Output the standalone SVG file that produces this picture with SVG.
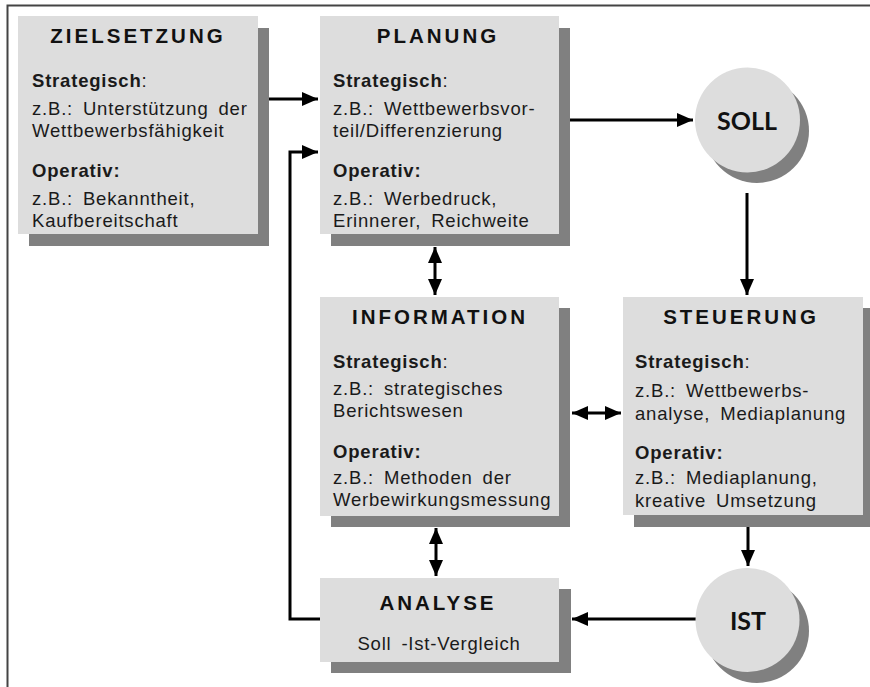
<svg xmlns="http://www.w3.org/2000/svg" width="870" height="687" viewBox="0 0 870 687">
<style>
.frame{stroke:#444;stroke-width:2;fill:none}
.box{fill:#dddddd}
.shadow{fill:#808080}
.title{font-family:"Liberation Sans",Arial,sans-serif;font-weight:bold;font-size:20.5px;letter-spacing:3px;fill:#111;text-anchor:middle}
.body{font-family:"Liberation Sans",Arial,sans-serif;font-size:18.5px;fill:#1a1a1a;letter-spacing:0.8px;word-spacing:4px}
.b{font-weight:bold}
.circ{font-family:"Lato","Open Sans",sans-serif;font-weight:bold;font-size:25px;fill:#111;text-anchor:middle}
.conn{stroke:#000;stroke-width:3;fill:none}
</style>
<defs>
<marker id="ah" markerUnits="userSpaceOnUse" markerWidth="16" markerHeight="14" refX="16" refY="7" orient="auto-start-reverse" viewBox="0 0 16 14">
<path d="M0,0 L16,7 L0,14 z" fill="#000"/>
</marker>
</defs>
<rect width="870" height="687" fill="#fff"/>
<path class="frame" d="M7.5,687 V5.5 H870"/>

<g id="connectors">
<path class="conn" d="M269,99 H318" marker-end="url(#ah)"/>
<path class="conn" d="M320,619 H290 V152 H318" marker-end="url(#ah)"/>
<path class="conn" d="M570,120 H693" marker-end="url(#ah)"/>
<path class="conn" d="M747,193 V295" marker-end="url(#ah)"/>
<path class="conn" d="M435,247 V295" marker-start="url(#ah)" marker-end="url(#ah)"/>
<path class="conn" d="M572,413 H621" marker-start="url(#ah)" marker-end="url(#ah)"/>
<path class="conn" d="M436,528 V576" marker-start="url(#ah)" marker-end="url(#ah)"/>
<path class="conn" d="M748,527 V566" marker-end="url(#ah)"/>
<path class="conn" d="M696,619 H572" marker-end="url(#ah)"/>
</g>

<g id="zielsetzung">
<rect class="shadow" x="29" y="28" width="240" height="218"/>
<rect class="box" x="18" y="16" width="240" height="218"/>
<text class="title" x="138" y="43">ZIELSETZUNG</text>
<text class="body" x="32" y="87"><tspan class="b">Strategisch</tspan>:</text>
<text class="body" x="32" y="115">z.B.: Unterstützung der</text>
<text class="body" x="32" y="137">Wettbewerbsfähigkeit</text>
<text class="body b" x="32" y="177">Operativ:</text>
<text class="body" x="32" y="205">z.B.: Bekanntheit,</text>
<text class="body" x="32" y="227">Kaufbereitschaft</text>
</g>

<g id="planung">
<rect class="shadow" x="331" y="28" width="239" height="218"/>
<rect class="box" x="320" y="16" width="239" height="218"/>
<text class="title" x="438" y="43">PLANUNG</text>
<text class="body" x="333" y="87"><tspan class="b">Strategisch</tspan>:</text>
<text class="body" x="333" y="115">z.B.: Wettbewerbsvor-</text>
<text class="body" x="333" y="137">teil/Differenzierung</text>
<text class="body b" x="333" y="177">Operativ:</text>
<text class="body" x="333" y="205">z.B.: Werbedruck,</text>
<text class="body" x="333" y="227">Erinnerer, Reichweite</text>
</g>

<g id="soll">
<circle class="shadow" cx="757" cy="131" r="52"/>
<circle class="box" cx="747.5" cy="120" r="52.5"/>
<text class="circ" x="747" y="130">SOLL</text>
</g>

<g id="information">
<rect class="shadow" x="331" y="308" width="239" height="219"/>
<rect class="box" x="320" y="297" width="239" height="219"/>
<text class="title" x="440" y="324">INFORMATION</text>
<text class="body" x="333" y="368"><tspan class="b">Strategisch</tspan>:</text>
<text class="body" x="333" y="395">z.B.: strategisches</text>
<text class="body" x="333" y="417">Berichtswesen</text>
<text class="body b" x="333" y="458">Operativ:</text>
<text class="body" x="333" y="484">z.B.: Methoden der</text>
<text class="body" x="333" y="506">Werbewirkungsmessung</text>
</g>

<g id="steuerung">
<rect class="shadow" x="634" y="308" width="240" height="219"/>
<rect class="box" x="623" y="297" width="240" height="218"/>
<text class="title" x="741" y="324">STEUERUNG</text>
<text class="body" x="635" y="368"><tspan class="b">Strategisch</tspan>:</text>
<text class="body" x="635" y="397">z.B.: Wettbewerbs-</text>
<text class="body" x="635" y="420">analyse, Mediaplanung</text>
<text class="body b" x="635" y="459">Operativ:</text>
<text class="body" x="635" y="484">z.B.: Mediaplanung,</text>
<text class="body" x="635" y="507">kreative Umsetzung</text>
</g>

<g id="ist">
<circle class="shadow" cx="757" cy="631" r="52"/>
<circle class="box" cx="747.5" cy="620" r="52"/>
<text class="circ" x="748" y="630">IST</text>
</g>

<g id="analyse">
<rect class="shadow" x="331" y="589" width="240" height="84"/>
<rect class="box" x="320" y="578" width="239" height="84"/>
<text class="title" x="438" y="610">ANALYSE</text>
<text class="body" x="439" y="650" text-anchor="middle">Soll -Ist-Vergleich</text>
</g>
</svg>
